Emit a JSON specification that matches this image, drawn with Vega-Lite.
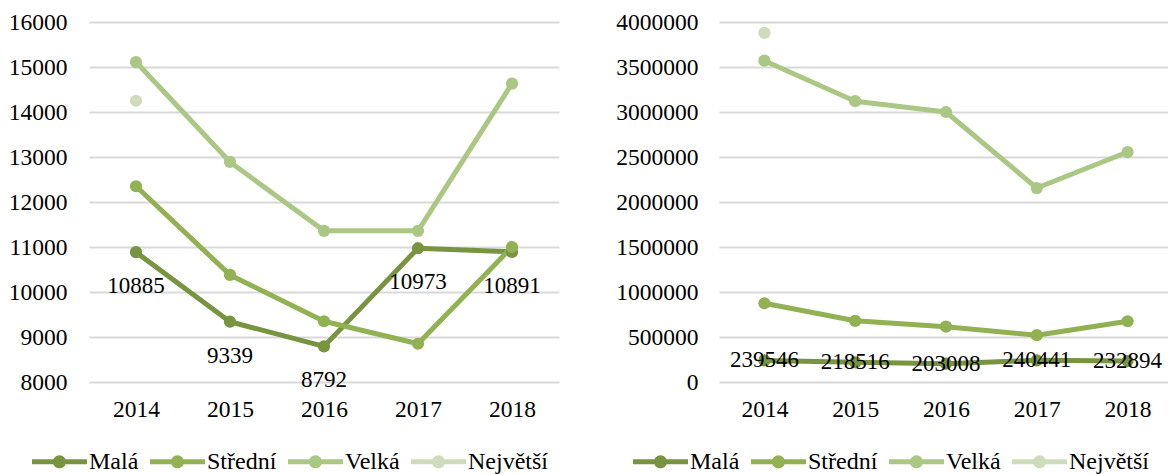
{
  "$schema": "https://vega.github.io/schema/vega-lite/v6.json",
  "padding": {"left": 8, "top": 10, "right": 0, "bottom": 0},
  "config": {
    "font": "Liberation Serif",
    "view": {"stroke": null},
    "axis": {"labelFont": "Liberation Serif", "labelFontSize": 23.5, "labelColor": "#000000", "domain": false, "ticks": false, "title": null},
    "legend": {"labelFont": "Liberation Serif", "labelFontSize": 24, "labelColor": "#000000"},
    "text": {"font": "Liberation Serif"}
  },
  "datasets": {
    "left": [
      {"year": "2014", "series": "Malá", "value": 10885},
      {"year": "2015", "series": "Malá", "value": 9339},
      {"year": "2016", "series": "Malá", "value": 8792},
      {"year": "2017", "series": "Malá", "value": 10973},
      {"year": "2018", "series": "Malá", "value": 10891},
      {"year": "2014", "series": "Střední", "value": 12350},
      {"year": "2015", "series": "Střední", "value": 10380},
      {"year": "2016", "series": "Střední", "value": 9350},
      {"year": "2017", "series": "Střední", "value": 8850},
      {"year": "2018", "series": "Střední", "value": 11000},
      {"year": "2014", "series": "Velká", "value": 15110},
      {"year": "2015", "series": "Velká", "value": 12890},
      {"year": "2016", "series": "Velká", "value": 11360},
      {"year": "2017", "series": "Velká", "value": 11360},
      {"year": "2018", "series": "Velká", "value": 14630},
      {"year": "2014", "series": "Největší", "value": 14250}
    ],
    "right": [
      {"year": "2014", "series": "Malá", "value": 239546},
      {"year": "2015", "series": "Malá", "value": 218516},
      {"year": "2016", "series": "Malá", "value": 203008},
      {"year": "2017", "series": "Malá", "value": 240441},
      {"year": "2018", "series": "Malá", "value": 232894},
      {"year": "2014", "series": "Střední", "value": 875000},
      {"year": "2015", "series": "Střední", "value": 680000},
      {"year": "2016", "series": "Střední", "value": 615000},
      {"year": "2017", "series": "Střední", "value": 520000},
      {"year": "2018", "series": "Střední", "value": 675000},
      {"year": "2014", "series": "Velká", "value": 3570000},
      {"year": "2015", "series": "Velká", "value": 3120000},
      {"year": "2016", "series": "Velká", "value": 3000000},
      {"year": "2017", "series": "Velká", "value": 2155000},
      {"year": "2018", "series": "Velká", "value": 2555000},
      {"year": "2014", "series": "Největší", "value": 3880000}
    ]
  },
  "resolve": {"legend": {"color": "independent"}},
  "spacing": 56,
  "hconcat": [
    {
      "width": 470,
      "height": 360,
      "data": {"name": "left"},
      "layer": [
        {
          "mark": {"type": "line", "strokeWidth": 5, "strokeCap": "round", "strokeJoin": "round", "point": {"filled": true, "size": 150, "opacity": 1}},
          "encoding": {
            "x": {"field": "year", "type": "nominal", "scale": {"type": "point", "padding": 0.5}, "axis": {"labelAngle": 0, "labelPadding": 15, "grid": false}},
            "y": {"field": "value", "type": "quantitative", "scale": {"domain": [8000, 16000], "nice": false, "zero": false}, "axis": {"values": [8000, 9000, 10000, 11000, 12000, 13000, 14000, 15000, 16000], "format": "d", "labelPadding": 22, "gridColor": "#d9d9d9", "gridWidth": 2}},
            "color": {"field": "series", "type": "nominal", "sort": ["Malá", "Střední", "Velká", "Největší"],
              "scale": {"domain": ["Malá", "Střední", "Velká", "Největší"], "range": ["#789440", "#91b152", "#abc784", "#cfdcbb"]},
              "legend": {"title": null, "orient": "none", "legendX": -57, "legendY": 412, "direction": "horizontal", "labelFont": "Liberation Serif", "labelFontSize": 24, "labelColor": "#000000", "symbolType": "M-1,-0.09L1,-0.09L1,0.09L-1,0.09Z M0.24,0A0.24,0.24 0 1,1 -0.24,0A0.24,0.24 0 1,1 0.24,0Z", "symbolSize": 3025, "symbolStrokeWidth": 0, "labelOffset": 2, "columnPadding": 11,
                "encode": {"symbols": {"update": {"fill": {"scale": "color", "field": "value"}, "fillOpacity": {"value": 1}, "strokeWidth": {"value": 0}}}}}
            },
            "order": {"field": "year"}
          }
        },
        {
          "transform": [{"filter": "datum.series === 'Malá'"}],
          "mark": {"type": "text", "dy": 34, "fontSize": 23, "font": "Liberation Serif", "color": "#000000"},
          "encoding": {
            "x": {"field": "year", "type": "nominal"},
            "y": {"field": "value", "type": "quantitative"},
            "text": {"field": "value", "type": "quantitative", "format": "d"}
          }
        }
      ]
    },
    {
      "width": 454,
      "height": 360,
      "data": {"name": "right"},
      "layer": [
        {
          "mark": {"type": "line", "strokeWidth": 5, "strokeCap": "round", "strokeJoin": "round", "point": {"filled": true, "size": 150, "opacity": 1}},
          "encoding": {
            "x": {"field": "year", "type": "nominal", "scale": {"type": "point", "padding": 0.5}, "axis": {"labelAngle": 0, "labelPadding": 15, "grid": false}},
            "y": {"field": "value", "type": "quantitative", "scale": {"domain": [0, 4000000], "nice": false}, "axis": {"values": [0, 500000, 1000000, 1500000, 2000000, 2500000, 3000000, 3500000, 4000000], "format": "d", "labelPadding": 21, "gridColor": "#d9d9d9", "gridWidth": 2}},
            "color": {"field": "series", "type": "nominal", "sort": ["Malá", "Střední", "Velká", "Největší"],
              "scale": {"domain": ["Malá", "Střední", "Velká", "Největší"], "range": ["#789440", "#91b152", "#abc784", "#cfdcbb"]},
              "legend": {"title": null, "orient": "none", "legendX": -86, "legendY": 412, "direction": "horizontal", "labelFont": "Liberation Serif", "labelFontSize": 24, "labelColor": "#000000", "symbolType": "M-1,-0.09L1,-0.09L1,0.09L-1,0.09Z M0.24,0A0.24,0.24 0 1,1 -0.24,0A0.24,0.24 0 1,1 0.24,0Z", "symbolSize": 3025, "symbolStrokeWidth": 0, "labelOffset": 2, "columnPadding": 11,
                "encode": {"symbols": {"update": {"fill": {"scale": "color", "field": "value"}, "fillOpacity": {"value": 1}, "strokeWidth": {"value": 0}}}}}
            },
            "order": {"field": "year"}
          }
        },
        {
          "transform": [{"filter": "datum.series === 'Malá'"}],
          "mark": {"type": "text", "dy": 0, "fontSize": 23, "font": "Liberation Serif", "color": "#000000"},
          "encoding": {
            "x": {"field": "year", "type": "nominal"},
            "y": {"field": "value", "type": "quantitative"},
            "text": {"field": "value", "type": "quantitative", "format": "d"}
          }
        }
      ]
    }
  ]
}
